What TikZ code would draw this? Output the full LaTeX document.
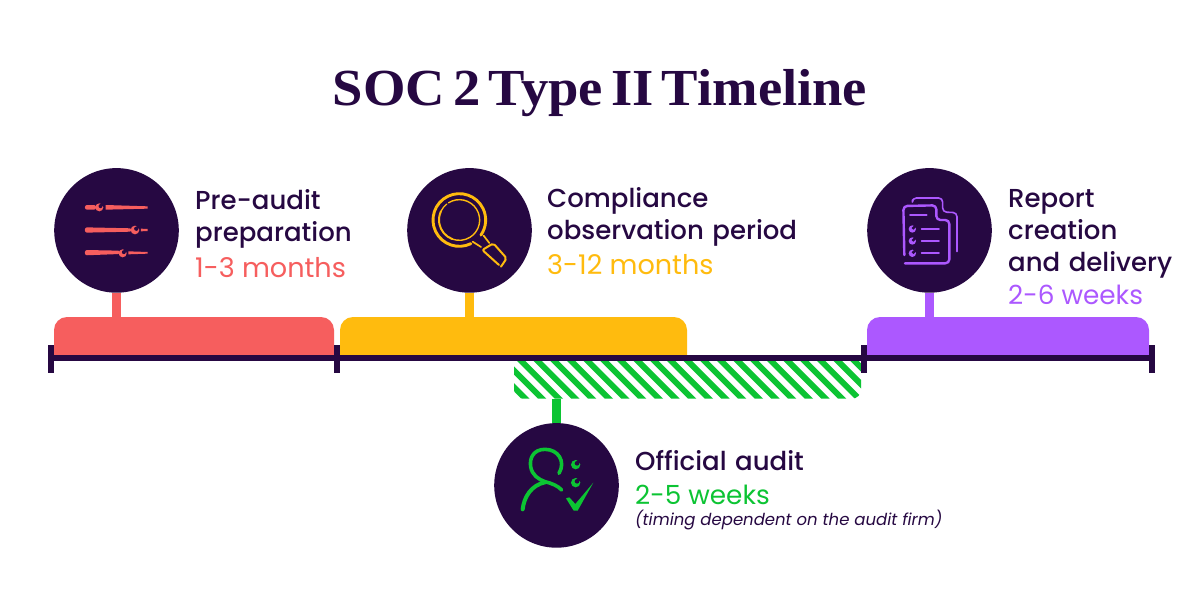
\documentclass[tikz,border=0pt]{standalone}
\usepackage{fontspec}
\setmainfont{Poppins}
\newfontfamily\titlefont[FakeStretch=1.05,WordSpace=0.6]{Liberation Serif}
\newfontfamily\medfont[WordSpace=1.25]{Poppins Medium}
\definecolor{navy}{HTML}{260842}
\definecolor{cred}{HTML}{F65E5E}
\definecolor{cyel}{HTML}{FFBB0E}
\definecolor{cpur}{HTML}{AC58FF}
\definecolor{cgrn}{HTML}{0CC433}
\newcommand{\cbullet}[3]{% x y r, in the scope's units: a disc with a notch
  \fill (#1,#2) circle[radius=#3];
  \fill[navy] ({#1+0.3*#3},{#2-0.3*#3}) circle[radius={0.5*#3}];
  \fill[navy] ({#1+0.15*#3},{#2-0.15*#3}) -- ({#1+1.3*#3},{#2-0.55*#3}) -- ({#1+0.55*#3},{#2-1.3*#3}) -- cycle;
}
\tikzset{
  x=1pt,y=-1pt,
  disc/.style={circle,fill=navy,draw=none,minimum size=124.6pt,inner sep=0pt},
  stem/.style={line width=9pt},
  axisline/.style={navy,line width=6pt},
  tick/.style={navy,line width=6pt},
  ttl/.style={text=navy,anchor=base,inner sep=0pt,font=\titlefont\bfseries\fontsize{52}{52}\selectfont},
  lab/.style={anchor=base west,inner sep=0pt,text=navy,font=\medfont\fontsize{26}{26}\selectfont},
  dur/.style={anchor=base west,inner sep=0pt,font=\fontsize{26.3}{26.3}\selectfont},
  durwide/.style={anchor=base west,inner sep=0pt,font=\fontsize{27.1}{27.1}\selectfont},
  barshape/.style={rounded corners=13pt},
  icon/.style={line cap=round,line join=round},
}
\begin{document}
\begin{tikzpicture}
\useasboundingbox (0,0) rectangle (1200,613);
\fill[white] (0,0) rectangle (1200,613);
\node[ttl] (title) at (600,105) {SOC 2 Type II Timeline};

% hatch
\begin{scope}
\clip[rounded corners=9pt] (514,340) -- (861,340) -- (861,398.7) -- (514,398.7) -- cycle;
\foreach \k in {0,...,25}{
  \fill[cgrn] ({467+\k*16.67},361) -- ({475.3+\k*16.67},361) -- ({513+\k*16.67},398.7) -- ({504.7+\k*16.67},398.7) -- cycle;
}
\end{scope}

% bars
\begin{scope}
\clip (0,300) rectangle (1200,355);
\fill[cred,barshape] (54,380) -- (54,317) -- (334,317) -- (334,380) -- cycle;
\fill[cyel,barshape] (340,380) -- (340,317) -- (687,317) -- (687,380) -- cycle;
\fill[cpur,barshape] (867,380) -- (867,317) -- (1149,317) -- (1149,380) -- cycle;
\end{scope}

% discs
\node[disc] (d1) at (116.5,230.4) {};
\node[disc] (d2) at (469.5,230.4) {};
\node[disc] (d3) at (929.5,230.4) {};
\node[disc] (d4) at (556.5,485.4) {};

% axis
\coordinate (a0) at (48,358);
\coordinate (a1) at (1155,358);
\draw[axisline] (a0) -- (a1);
\foreach \xx in {51,337,864,1152}{
  \draw[tick] (\xx,345) -- (\xx,373);
}

% stems
\coordinate (s1) at (116.5,317);
\coordinate (s2) at (469.5,317);
\coordinate (s3) at (929.5,317);
\coordinate (s4) at (556.5,398.7);
\draw[stem,cred] (d1.south) -- (s1);
\draw[stem,cyel] (d2.south) -- (s2);
\draw[stem,cpur] (d3.south) -- (s3);
\draw[stem,cgrn] (s4) -- (d4.north);

% icon 1: sliders of wrenches
\begin{scope}[shift={(40,190)},x=0.3333pt,y=-0.3333pt,cred,icon]
\fill[rounded corners=2pt] (135,45) -- (168,45) -- (168,59) -- (135,59) -- cycle;
\fill (197,45) -- (323,49) -- (323,56) -- (197,59) -- cycle;
\cbullet{178}{52}{12}
\fill[rounded corners=2pt] (135,112) -- (275,115) -- (275,125) -- (135,128) -- cycle;
\fill (303,116) -- (323,117) -- (323,123) -- (303,124) -- cycle;
\cbullet{285}{120}{13}
\fill[rounded corners=2pt] (135,180) -- (240,182) -- (240,192) -- (135,196) -- cycle;
\fill (265,184) -- (323,186) -- (323,191) -- (265,193) -- cycle;
\cbullet{248}{190}{12}
\end{scope}

% icon 2: magnifier
\begin{scope}[shift={(425,185)},x=0.3333pt,y=-0.3333pt,cyel,icon]
\draw[line width=2.9pt] (103,105) ++(64:79) arc[start angle=64,end angle=395,radius=79];
\draw[line width=1.4pt] (103,105) ++(-122:61) arc[start angle=-122,end angle=110,radius=61];
\draw[line width=2pt] (103,105) ++(110:61) arc[start angle=110,end angle=205,radius=61];
\draw[line width=1.3pt] (103,105) ++(205:61) arc[start angle=205,end angle=232,radius=61];
\draw[line width=1.7pt] (143,170) -- (168,186);
\draw[line width=1.7pt] (176,152) -- (193,174);
\draw[line width=2pt,rounded corners=2pt] (222,240) -- (172,195) -- (205,175) -- (245,220) -- (228,245);
\end{scope}

% icon 3: documents
\begin{scope}[shift={(895,190)},x=0.3333pt,y=-0.3333pt,cpur,icon]
\draw[line width=1.6pt,rounded corners=4pt] (52,30) -- (52,24) -- (143,24) -- (143,66) -- (186,68) -- (186,185);
\draw[line width=2.4pt,rounded corners=4pt] (28,195) -- (25,48) -- (124,46) -- (124,90) -- (163,90) -- (163,220) -- (30,220);
\draw[line width=1.8pt] (45,76) -- (95,76);
\draw[line width=1.8pt] (80,117) -- (132,117);
\draw[line width=1.8pt] (80,153) -- (132,153);
\draw[line width=1.8pt] (80,190) -- (132,190);
\cbullet{52}{117}{11}
\cbullet{52}{153}{11}
\cbullet{52}{190}{11}
\end{scope}

% icon 4: person with check
\begin{scope}[shift={(510,440)},x=0.3333pt,y=-0.3333pt,cgrn,icon]
\draw[line width=3.6pt] (147,100) .. controls (168,65) and (145,28) .. (105,28) .. controls (70,28) and (58,55) .. (62,80) .. controls (66,105) and (85,118) .. (105,125) .. controls (125,130) and (145,138) .. (155,150);
\draw[line width=4pt] (38,208) .. controls (42,170) and (65,135) .. (105,127);
\cbullet{197}{74}{14}
\cbullet{197}{128}{14}
\fill (168,175) -- (178,172) -- (196,192) -- (250,128) -- (203,212) -- (191,212) -- cycle;
\end{scope}

\node[lab] (t1a) at (195,209) {Pre-audit};
\node[lab] (t1b) at (195,241) {preparation};
\node[durwide,text=cred] (t1c) at (195,277) {1-3 months};
\node[lab] (t2a) at (547,207) {Compliance};
\node[lab] (t2b) at (547,239) {observation period};
\node[durwide,text=cyel] (t2c) at (547,274) {3-12 months};
\node[lab] (t3a) at (1008,207) {Report};
\node[lab] (t3b) at (1008,239) {creation};
\node[lab] (t3c) at (1008,271) {and delivery};
\node[dur,text=cpur] (t3d) at (1008,304) {2-6 weeks};
\node[lab] (t4a) at (635,470) {Official audit};
\node[dur,text=cgrn] (t4b) at (635,504) {2-5 weeks};
\node[anchor=base west,inner sep=0pt,text=navy,font=\itshape\fontsize{16.5}{16.5}\selectfont] (t4c) at (635,525) {(timing dependent on the audit firm)};
\end{tikzpicture}
\end{document}
